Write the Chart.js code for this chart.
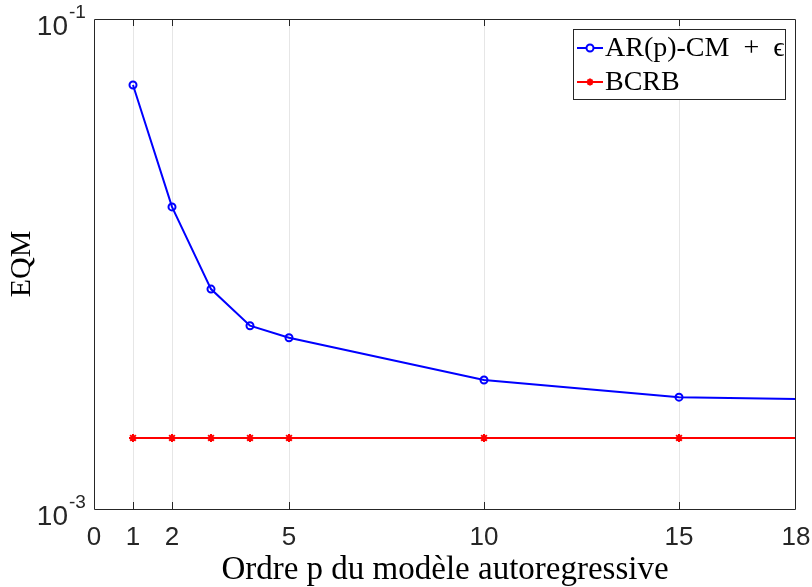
<!DOCTYPE html>
<html>
<head>
<meta charset="utf-8">
<script src="https://cdn.jsdelivr.net/npm/chart.js@4/dist/chart.umd.min.js"></script>
<style>
  html, body { margin: 0; padding: 0; background: #fff; }
  #wrap { width: 812px; height: 587px; }
</style>
</head>
<body>
<div id="wrap"><canvas id="c" width="812" height="587"></canvas></div>
<script>
// valeurs
const orders = [1, 2, 3, 4, 5, 10, 15, 18];
const eqmAR = [0.0538, 0.0171, 0.0079, 0.0056, 0.0050, 0.00336, 0.00286, 0.00281];
const eqmBCRB = [0.00195, 0.00195, 0.00195, 0.00195, 0.00195, 0.00195, 0.00195, 0.00195];
const xTicks = [0, 1, 2, 5, 10, 15, 18];
const yTicks = [0.001, 0.1];
const yTickExp = ['-3', '-1'];

const TICK_FONT = "'Liberation Sans Narrow', 'Liberation Sans', Arial, sans-serif";
const SERIF = "'Liberation Serif', 'DejaVu Serif', serif";
const AXIS_COLOR = '#262626';

const toPoints = (ys) => orders.map((x, i) => ({ x: x, y: ys[i] }));
// pas de marqueur sur le dernier point (bord de l'axe)
const markerSize = (r) => (ctx) => (ctx.raw && ctx.raw.x > 15 ? 0 : r);

// cadre, petites graduations, etiquettes y en puissance de 10, legende
const framePlugin = {
  id: 'frame',
  afterDatasetsDraw(chart) {
    const { ctx, chartArea: a, scales } = chart;
    ctx.save();
    ctx.strokeStyle = AXIS_COLOR;
    ctx.lineWidth = 1;
    ctx.beginPath();
    ctx.rect(Math.round(a.left) + 0.5, Math.round(a.top) + 0.5,
      Math.round(a.right - a.left) - 1, Math.round(a.bottom - a.top));
    ctx.stroke();

    // graduations vers l'interieur
    ctx.beginPath();
    xTicks.forEach((v) => {
      if (v === 0 || v === 18) return;
      const px = Math.round(scales.x.getPixelForValue(v)) + 0.5;
      ctx.moveTo(px, a.bottom);
      ctx.lineTo(px, a.bottom - 7);
      ctx.moveTo(px, a.top);
      ctx.lineTo(px, a.top + 7);
    });
    ctx.stroke();

    // etiquettes 10^n
    ctx.fillStyle = AXIS_COLOR;
    yTicks.forEach((v, i) => {
      const py = scales.y.getPixelForValue(v);
      ctx.font = '28px ' + TICK_FONT;
      ctx.textAlign = 'right';
      ctx.textBaseline = 'middle';
      ctx.fillText('10', 68, py + 8);
      ctx.font = '19px ' + TICK_FONT;
      ctx.textAlign = 'left';
      ctx.fillText(yTickExp[i], 69, py - 6);
    });

    // legende
    const lx = 573.5, ly = 29.5, lw = 212, lh = 70;
    ctx.fillStyle = '#fff';
    ctx.fillRect(lx, ly, lw, lh);
    ctx.strokeStyle = AXIS_COLOR;
    ctx.strokeRect(lx, ly, lw, lh);
    const items = [
      { label: 'AR(p)-CM\u2002+\u2002\u03f5', ds: chart.data.datasets[0], y: 48 },
      { label: 'BCRB', ds: chart.data.datasets[1], y: 82 },
    ];
    items.forEach((it) => {
      ctx.strokeStyle = it.ds.borderColor;
      ctx.lineWidth = 2;
      ctx.beginPath();
      ctx.moveTo(577, it.y);
      ctx.lineTo(603, it.y);
      ctx.stroke();
      Chart.helpers.drawPoint(ctx, {
        pointStyle: it.ds.pointStyle,
        radius: 3.5,
        borderWidth: 2,
      }, 590, it.y);
      ctx.fillStyle = '#000';
      ctx.font = '28px ' + SERIF;
      ctx.textAlign = 'left';
      ctx.textBaseline = 'middle';
      ctx.fillText(it.label, 605, it.y + 1);
    });
    ctx.restore();
  },
};

new Chart(document.getElementById('c'), {
  type: 'line',
  data: {
    datasets: [
      {
        label: 'AR(p)-CM + \u03f5',
        data: toPoints(eqmAR),
        borderColor: '#0000ff',
        backgroundColor: 'rgba(0,0,0,0)',
        borderWidth: 2,
        pointStyle: 'circle',
        pointRadius: markerSize(3.5),
        pointBorderWidth: 2,
        pointBorderColor: '#0000ff',
        pointBackgroundColor: 'rgba(0,0,0,0)',
        tension: 0,
      },
      {
        label: 'BCRB',
        data: toPoints(eqmBCRB),
        borderColor: '#ff0000',
        backgroundColor: '#ff0000',
        borderWidth: 2,
        pointStyle: 'star',
        pointRadius: markerSize(4),
        pointBorderWidth: 2,
        pointBorderColor: '#ff0000',
        tension: 0,
      },
    ],
  },
  options: {
    responsive: false,
    animation: false,
    layout: { padding: { top: 19, right: 16, left: 0, bottom: 0 } },
    plugins: {
      legend: { display: false },
      tooltip: { enabled: false },
    },
    scales: {
      x: {
        type: 'linear',
        min: 0,
        max: 18,
        afterBuildTicks: (scale) => {
          scale.ticks = xTicks.map((v) => ({ value: v }));
        },
        afterFit: (scale) => {
          scale.height = 78;
          scale.paddingLeft = 0;
          scale.paddingRight = 0;
        },
        grid: {
          drawTicks: false,
          color: (ctx) => (ctx.tick && (ctx.tick.value === 0 || ctx.tick.value === 18) ? 'rgba(0,0,0,0)' : '#e6e6e6'),
          lineWidth: 1,
        },
        border: { display: false },
        ticks: {
          autoSkip: false,
          maxRotation: 0,
          padding: 13,
          color: AXIS_COLOR,
          font: { family: TICK_FONT, size: 26 },
        },
        title: {
          display: true,
          text: 'Ordre p du modèle autoregressive',
          color: '#000',
          font: { family: SERIF, size: 33, lineHeight: 1.0 },
          padding: { top: 0, bottom: 0 },
        },
      },
      y: {
        type: 'logarithmic',
        min: 0.001,
        max: 0.1,
        afterFit: (scale) => { scale.width = 94; },
        grid: { display: false },
        border: { display: false },
        ticks: { display: false },
        title: {
          display: true,
          text: 'EQM',
          color: '#000',
          font: { family: SERIF, size: 30 },
          padding: { top: 4, bottom: 0 },
        },
      },
    },
  },
  plugins: [framePlugin],
});
</script>
</body>
</html>
